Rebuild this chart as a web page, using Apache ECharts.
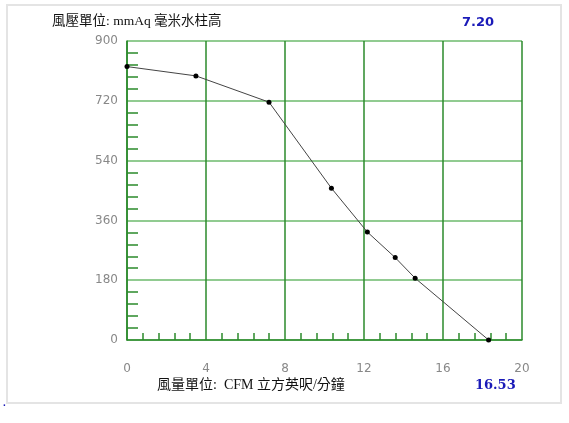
<!DOCTYPE html>
<html>
<head>
<meta charset="utf-8">
<script src="https://cdn.jsdelivr.net/npm/echarts@6/dist/echarts.min.js"></script>
<style>
html,body{margin:0;padding:0;background:#fff;}
#chart{width:569px;height:423px;}
</style>
</head>
<body>
<div id="chart"></div>
<script>
// Airflow (CFM) values
var flowValues = [0, 3.49, 7.19, 10.35, 12.17, 13.58, 14.59, 18.31];
// Pressure (mmAq) values
var pressureValues = [823, 795, 716, 457, 325, 248, 186, 0];
var xTicks = [0, 4, 8, 12, 16, 20];
var yTicks = [0, 180, 360, 540, 720, 900];
var pressureTitle = '風壓單位: mmAq 毫米水柱高';
var flowTitle = '風量單位:  CFM 立方英呎/分鐘';
var pressureMax = '7.20';
var flowMax = '16.53';

var points = flowValues.map(function (x, i) { return [x, pressureValues[i]]; });

var chart = echarts.init(document.getElementById('chart'), null, {renderer: 'canvas'});
var darkGreen = '#2b8a2b';
var lightGreen = '#6cba6c';
chart.setOption({
  animation: false,
  backgroundColor: '#fff',
  graphic: [
    {type: 'rect', z: -10, shape: {x: 7, y: 5, width: 554, height: 398},
     style: {fill: '#fff', stroke: '#e4e4e4', lineWidth: 2}},
    {type: 'text', left: 52, top: 15,
     style: {text: pressureTitle, fill: '#111', font: '13.5px "Liberation Serif", "Noto Sans CJK TC", serif'}},
    {type: 'text', left: 462, top: 16,
     style: {text: pressureMax, fill: '#1a1ab8', font: 'bold 13px "DejaVu Sans", sans-serif'}},
    {type: 'text', left: 157, top: 378,
     style: {text: flowTitle, fill: '#111', font: '14px "Liberation Serif", "Noto Sans CJK TC", serif'}},
    {type: 'text', left: 475, top: 379,
     style: {text: flowMax, fill: '#1a1ab8', font: 'bold 13px "DejaVu Serif", serif'}},
    {type: 'text', left: 3, top: 398,
     style: {text: '.', fill: '#1a1ab8', font: 'bold 10px sans-serif'}}
  ],
  grid: {left: 127, top: 41, right: 47, bottom: 83, containLabel: false},
  xAxis: {
    type: 'value', min: xTicks[0], max: xTicks[xTicks.length - 1], interval: 4,
    axisLine: {show: true, lineStyle: {color: darkGreen, width: 1.5}},
    axisTick: {show: false, inside: true},
    minorTick: {show: true, splitNumber: 5, length: 7, lineStyle: {color: darkGreen, width: 1.5}},
    splitLine: {show: true, lineStyle: {color: darkGreen, width: 1.5}},
    axisLabel: {margin: 23, color: '#888', fontSize: 12, fontFamily: 'Verdana, "DejaVu Sans", sans-serif',
      showMinLabel: true, showMaxLabel: true}
  },
  yAxis: {
    type: 'value', min: yTicks[0], max: yTicks[yTicks.length - 1], interval: 180,
    axisLine: {show: true, lineStyle: {color: darkGreen, width: 1.5}},
    axisTick: {show: false, inside: true},
    minorTick: {show: true, splitNumber: 5, length: 11, lineStyle: {color: darkGreen, width: 1.5}},
    splitLine: {show: true, lineStyle: {color: lightGreen, width: 1.5}},
    axisLabel: {margin: 9, color: '#888', fontSize: 12, fontFamily: 'Verdana, "DejaVu Sans", sans-serif'}
  },
  series: [{
    type: 'line', data: points, symbol: 'circle', symbolSize: 5,
    lineStyle: {color: '#444', width: 1},
    itemStyle: {color: '#000'},
    z: 10
  }]
});
</script>
</body>
</html>
